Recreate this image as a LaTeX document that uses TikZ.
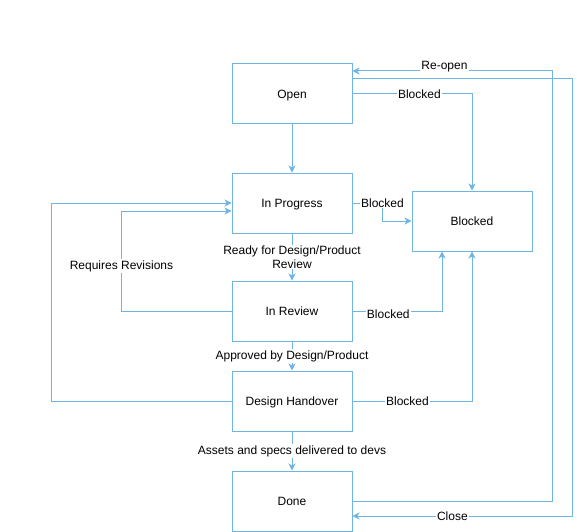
\documentclass[tikz,border=0pt]{standalone}
\usepackage{fontspec}
\setmainfont{Liberation Sans}
\usetikzlibrary{arrows.meta}
\definecolor{flowblue}{RGB}{112,180,228}

\begin{document}
\begin{tikzpicture}[x=1pt,y=-1pt,>={Stealth[length=7pt,width=7pt,inset=2pt]},line width=1pt,
    font=\fontsize{12}{14}\selectfont,
    state/.style={draw=flowblue,rectangle,minimum width=120pt,minimum height=60pt,text height=8.6pt,text depth=0pt},
    flow/.style={->,draw=flowblue},
    lbl/.style={fill=white,inner sep=1pt,align=center}]
  \useasboundingbox (0,0) rectangle (581,532);
  \node[state] (open) at (292,94) {Open};
  \node[state] (prog) at (292,203) {In Progress};
  \node[state] (blk) at (472,221) {Blocked};
  \node[state] (rev) at (292,311) {In Review};
  \node[state] (hand) at (292,401) {Design Handover};
  \node[state] (done) at (292,501) {Done};
  \draw[flow] (open) -- (prog);
  \draw[flow] (prog) -- node[lbl] {Ready for Design/Product\\Review} (rev);
  \draw[flow] (rev) -- node[lbl] {Approved by Design/Product} (hand);
  \draw[flow] (hand) -- node[lbl] {Assets and specs delivered to devs} (done);
  \draw[flow] (open.east) -| node[lbl,pos=0.28] {Blocked} (blk.north);
  \draw[flow] (prog.east) -- ++(30,0) node[lbl] {Blocked} |- (blk.west);
  \draw[flow] (rev.east) -| node[lbl,pos=0.2,yshift=-3pt] {Blocked} ([xshift=-30pt]blk.south);
  \draw[flow] (hand.east) -| node[lbl,pos=0.23] {Blocked} (blk.south);
  \draw[flow] (rev.west) -- ++(-110,0) |- node[lbl,pos=0.225] {Requires Revisions} ([yshift=-8pt]prog.west);
  \draw[flow] (hand.west) -- ++(-180,0) |- (prog.west);
  \draw[flow] ([yshift=15pt]open.east) -- ++(220,0) |- node[lbl,pos=0.773] {Close} ([yshift=-15pt]done.east);
  \draw[flow] (done.east) -- ++(200,0) |- node[lbl,pos=0.77,yshift=4pt] {Re-open} ([yshift=23pt]open.east);
\end{tikzpicture}
\end{document}
